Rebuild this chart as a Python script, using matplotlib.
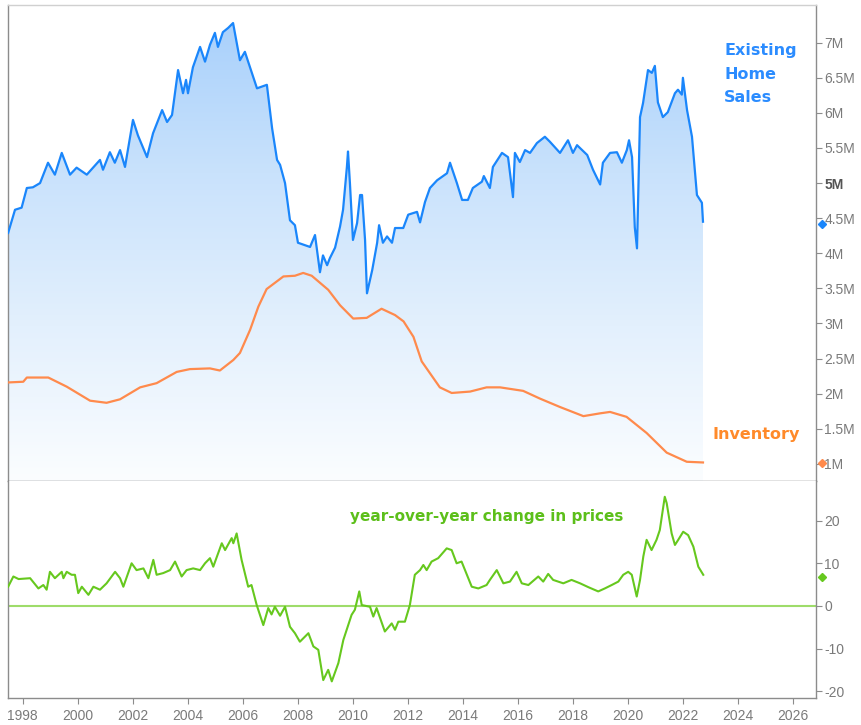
import numpy as np
import matplotlib
matplotlib.use("Agg")
import matplotlib.pyplot as plt
from matplotlib.colors import LinearSegmentedColormap

# ---------------- data ----------------
sales_year = [1997.47, 1997.72, 1997.96, 1998.15, 1998.37, 1998.63, 1998.92, 1999.17, 1999.42, 1999.72,
              1999.96, 2000.33, 2000.81, 2000.92, 2001.17, 2001.35, 2001.54, 2001.72, 2002.01, 2002.19,
              2002.52, 2002.74, 2003.07, 2003.25, 2003.43, 2003.65, 2003.83, 2003.94, 2004.01, 2004.19,
              2004.45, 2004.63, 2004.81, 2004.99, 2005.10, 2005.28, 2005.47, 2005.65, 2005.90, 2006.08,
              2006.52, 2006.88, 2007.07, 2007.25, 2007.36, 2007.54, 2007.72, 2007.90, 2008.01, 2008.45,
              2008.63, 2008.81, 2008.92, 2009.07, 2009.17, 2009.36, 2009.54, 2009.65, 2009.79, 2009.83,
              2009.90, 2010.01, 2010.16, 2010.27, 2010.34, 2010.45, 2010.52, 2010.71, 2010.89, 2010.96,
              2011.10, 2011.25, 2011.43, 2011.54, 2011.84, 2012.02, 2012.34, 2012.45, 2012.63, 2012.81,
              2013.07, 2013.43, 2013.54, 2013.79, 2013.98, 2014.19, 2014.37, 2014.70, 2014.77, 2014.99,
              2015.10, 2015.43, 2015.65, 2015.83, 2015.90, 2016.08, 2016.27, 2016.45, 2016.70, 2016.99,
              2017.17, 2017.54, 2017.83, 2018.01, 2018.16, 2018.53, 2018.74, 2019.00, 2019.10, 2019.36,
              2019.61, 2019.79, 2019.97, 2020.05, 2020.16, 2020.26, 2020.34, 2020.45, 2020.56, 2020.70,
              2020.74, 2020.88, 2020.99, 2021.10, 2021.28, 2021.46, 2021.72, 2021.83, 2021.97, 2022.01,
              2022.16, 2022.34, 2022.52, 2022.70, 2022.74]
sales_val = [4.29, 4.62, 4.65, 4.93, 4.94, 5.00, 5.29, 5.12, 5.43, 5.12,
             5.22, 5.12, 5.33, 5.19, 5.44, 5.29, 5.47, 5.23, 5.90, 5.68,
             5.37, 5.71, 6.04, 5.87, 5.97, 6.61, 6.28, 6.47, 6.28, 6.65,
             6.94, 6.73, 6.97, 7.14, 6.94, 7.15, 7.21, 7.28, 6.75, 6.87,
             6.35, 6.40, 5.78, 5.33, 5.26, 5.00, 4.47, 4.40, 4.15, 4.09,
             4.26, 3.73, 3.97, 3.83, 3.93, 4.08, 4.38, 4.62, 5.23, 5.45,
             5.00, 4.19, 4.43, 4.83, 4.83, 4.19, 3.43, 3.76, 4.15, 4.40,
             4.15, 4.24, 4.15, 4.36, 4.36, 4.55, 4.59, 4.44, 4.73, 4.93,
             5.04, 5.14, 5.29, 5.00, 4.76, 4.76, 4.93, 5.02, 5.10, 4.93,
             5.23, 5.43, 5.37, 4.80, 5.43, 5.30, 5.47, 5.43, 5.57, 5.66,
             5.59, 5.43, 5.61, 5.43, 5.54, 5.40, 5.19, 4.98, 5.29, 5.43,
             5.44, 5.29, 5.47, 5.61, 5.37, 4.37, 4.07, 5.94, 6.14, 6.51,
             6.61, 6.57, 6.67, 6.15, 5.94, 6.01, 6.28, 6.33, 6.26, 6.50,
             6.04, 5.66, 4.83, 4.72, 4.45]

inv_year = [1997.47, 1998.02, 1998.15, 1998.93, 1999.60, 2000.45, 2001.05, 2001.54, 2002.27, 2002.87,
            2003.60, 2004.08, 2004.81, 2005.17, 2005.66, 2005.90, 2006.27, 2006.57, 2006.87, 2007.48,
            2007.90, 2008.20, 2008.51, 2009.11, 2009.54, 2010.02, 2010.51, 2011.05, 2011.54, 2011.85,
            2012.21, 2012.51, 2013.17, 2013.60, 2014.27, 2014.87, 2015.36, 2016.20, 2016.81, 2017.54,
            2018.39, 2019.00, 2019.36, 2019.96, 2020.69, 2021.42, 2022.15, 2022.74]
inv_val = [2.16, 2.17, 2.23, 2.23, 2.10, 1.90, 1.87, 1.92, 2.09, 2.15,
           2.31, 2.35, 2.36, 2.33, 2.48, 2.58, 2.91, 3.24, 3.49, 3.67,
           3.68, 3.72, 3.68, 3.48, 3.26, 3.07, 3.08, 3.21, 3.12, 3.03,
           2.81, 2.46, 2.09, 2.01, 2.03, 2.09, 2.09, 2.04, 1.93, 1.81,
           1.68, 1.72, 1.74, 1.67, 1.44, 1.16, 1.03, 1.02]

yoy_year = [1997.47, 1997.66, 1997.85, 1998.27, 1998.57, 1998.75, 1998.87, 1998.99, 1999.17, 1999.42,
            1999.48, 1999.60, 1999.78, 1999.90, 2000.02, 2000.15, 2000.39, 2000.57, 2000.81, 2001.05,
            2001.36, 2001.54, 2001.66, 2001.96, 2002.14, 2002.39, 2002.57, 2002.75, 2002.87, 2003.11,
            2003.36, 2003.54, 2003.78, 2003.96, 2004.20, 2004.45, 2004.63, 2004.81, 2004.93, 2005.24,
            2005.36, 2005.60, 2005.66, 2005.78, 2005.96, 2006.20, 2006.32, 2006.51, 2006.75, 2006.93,
            2007.05, 2007.17, 2007.36, 2007.54, 2007.72, 2007.90, 2008.08, 2008.39, 2008.57, 2008.75,
            2008.93, 2009.11, 2009.24, 2009.48, 2009.66, 2009.96, 2010.08, 2010.24, 2010.33, 2010.63,
            2010.75, 2010.87, 2011.17, 2011.42, 2011.54, 2011.66, 2011.90, 2012.08, 2012.26, 2012.45,
            2012.57, 2012.69, 2012.87, 2013.11, 2013.42, 2013.60, 2013.78, 2013.96, 2014.33, 2014.57,
            2014.87, 2014.99, 2015.24, 2015.48, 2015.72, 2015.96, 2016.15, 2016.39, 2016.75, 2016.93,
            2017.11, 2017.29, 2017.66, 2017.96, 2018.27, 2018.57, 2018.93, 2019.17, 2019.42, 2019.66,
            2019.84, 2020.02, 2020.15, 2020.33, 2020.45, 2020.57, 2020.69, 2020.87, 2021.05, 2021.17,
            2021.35, 2021.42, 2021.60, 2021.72, 2021.84, 2022.02, 2022.20, 2022.39, 2022.57, 2022.75]
yoy_val = [4.5, 6.9, 6.3, 6.5, 4.1, 4.9, 3.8, 8.0, 6.5, 8.0,
           6.5, 8.0, 7.3, 7.3, 3.0, 4.5, 2.6, 4.5, 3.8, 5.3,
           8.0, 6.5, 4.5, 10.0, 8.4, 8.8, 6.5, 10.8, 7.3, 7.7,
           8.4, 10.4, 6.9, 8.4, 8.8, 8.4, 10.0, 11.2, 9.2, 14.7,
           13.1, 15.9, 14.7, 17.0, 10.8, 4.5, 4.9, 0.2, -4.5, -0.5,
           -2.0, -0.2, -2.3, -0.2, -4.9, -6.4, -8.4, -6.4, -9.5, -10.3,
           -17.4, -15.0, -17.7, -13.4, -8.0, -2.1, -0.9, 3.4, 0.2, -0.2,
           -2.5, -0.5, -6.0, -4.1, -5.6, -3.7, -3.7, 0.2, 7.3, 8.4,
           9.6, 8.4, 10.4, 11.2, 13.5, 13.1, 10.0, 10.4, 4.5, 4.1,
           4.9, 6.1, 8.4, 5.3, 5.7, 8.0, 5.3, 4.9, 6.9, 5.7,
           7.5, 6.1, 5.3, 6.1, 5.3, 4.4, 3.4, 4.1, 4.9, 5.7,
           7.3, 8.0, 7.3, 2.2, 6.1, 11.6, 15.5, 13.1, 15.5, 17.8,
           25.6, 24.1, 17.0, 14.3, 15.5, 17.4, 16.6, 13.9, 9.2, 7.3]

x_ticks = list(range(1998, 2027, 2))
top_ticks = [1, 1.5, 2, 2.5, 3, 3.5, 4, 4.5, 5, 5.5, 6, 6.5, 7]
top_tick_labels = ["1M", "1.5M", "2M", "2.5M", "3M", "3.5M", "4M", "4.5M", "5M", "5.5M", "6M", "6.5M", "7M"]
bot_ticks = [-20, -10, 0, 10, 20]
bot_tick_labels = ["-20", "-10", "0", "10", "20"]

last_sales = 4.42
last_inv = 1.01
last_yoy = 6.8

# ---------------- styling ----------------
BLUE = "#1a86fb"
ORANGE = "#ff8a4c"
GREEN = "#66c81e"
ZERO = "#9edc6a"
TICKC = "#7a7a7a"
SPINE = "#8c8c8c"
tick_font = ["Liberation Sans", "DejaVu Sans"]

W, H = 861, 725
fig = plt.figure(figsize=(W / 100, H / 100), dpi=100)
fig.patch.set_facecolor("white")

L, R = 8 / W, 816 / W
ax1 = fig.add_axes([L, 1 - 481 / H, R - L, (481 - 5) / H])
ax2 = fig.add_axes([L, 1 - 698 / H, R - L, (698 - 481) / H], sharex=ax1)

XMIN, XMAX = 1997.465, 2026.85
Y1MIN, Y1MAX = 0.756, 7.537

# gradient fill under sales
poly = ax1.fill_between(sales_year, sales_val, Y1MIN, facecolor="none", edgecolor="none")
cmap = LinearSegmentedColormap.from_list("g", ["#fbfdff", "#e3f0fd", "#c9e2fc", "#a8d0fb"])
grad = np.linspace(0, 1, 256).reshape(-1, 1)
im = ax1.imshow(grad, cmap=cmap, aspect="auto", origin="lower",
                extent=[XMIN, XMAX, Y1MIN, 7.35], zorder=1, interpolation="bicubic")
im.set_clip_path(poly.get_paths()[0], transform=ax1.transData)
ax1.set_xlim(XMIN, XMAX)
ax1.set_ylim(Y1MIN, Y1MAX)
ax2.set_ylim(-21.6, 29.3)

ax1.plot(sales_year, sales_val, color=BLUE, lw=1.6, zorder=3, solid_joinstyle="round")
ax1.plot(inv_year, inv_val, color=ORANGE, lw=1.6, zorder=3, solid_joinstyle="round")
ax2.plot(yoy_year, yoy_val, color=GREEN, lw=1.5, zorder=3, solid_joinstyle="round")
ax2.axhline(0, color=ZERO, lw=1.5, zorder=2)

# last-value markers just right of the axis
mx = 2027.07
ax1.plot([mx], [last_sales], marker="D", ms=4, color=BLUE, clip_on=False, zorder=5)
ax1.plot([mx], [last_inv], marker="D", ms=4, color=ORANGE, clip_on=False, zorder=5)
ax2.plot([mx], [last_yoy], marker="D", ms=4, color=GREEN, clip_on=False, zorder=5)

for ax in (ax1, ax2):
    for s in ax.spines.values():
        s.set_color(SPINE)
        s.set_linewidth(1.0)
    ax.yaxis.tick_right()
    ax.tick_params(axis="y", which="both", direction="out", length=4, width=0.8,
                   color=SPINE, labelcolor=TICKC, labelsize=10, pad=2)
ax1.spines["top"].set_color("#d0d0d0")
ax1.spines["bottom"].set_color("#707070")
ax2.spines["top"].set_visible(False)

ax1.set_yticks(top_ticks)
ax1.set_yticklabels(top_tick_labels, family=tick_font)
for lab in ax1.get_yticklabels():
    if lab.get_text() == "5M":
        lab.set_fontweight("bold")
        lab.set_color("#555555")
ax2.set_yticks(bot_ticks)
ax2.set_yticklabels(bot_tick_labels, family=tick_font)

ax1.tick_params(axis="x", which="both", bottom=False, labelbottom=False)
ax2.set_xticks(x_ticks)
ax2.set_xticklabels([str(t) for t in x_ticks], family=tick_font)
ax2.tick_params(axis="x", direction="out", length=4, width=0.8, color=SPINE,
                labelcolor=TICKC, labelsize=10, pad=4)

# annotations
fig.text(724 / W, 1 - 43 / H, "Existing\nHome\nSales", color="#2b8cff", fontsize=11.5,
         fontweight="bold", va="top", ha="left", linespacing=1.72)
fig.text(713 / W, 1 - 434 / H, "Inventory", color="#ff8a2a", fontsize=11.5,
         fontweight="bold", va="center", ha="left")
fig.text(350 / W, 1 - 517 / H, "year-over-year change in prices", color="#5cbf1a", fontsize=11,
         fontweight="bold", va="center", ha="left")

fig.savefig("out.png", dpi=100, facecolor="white")
